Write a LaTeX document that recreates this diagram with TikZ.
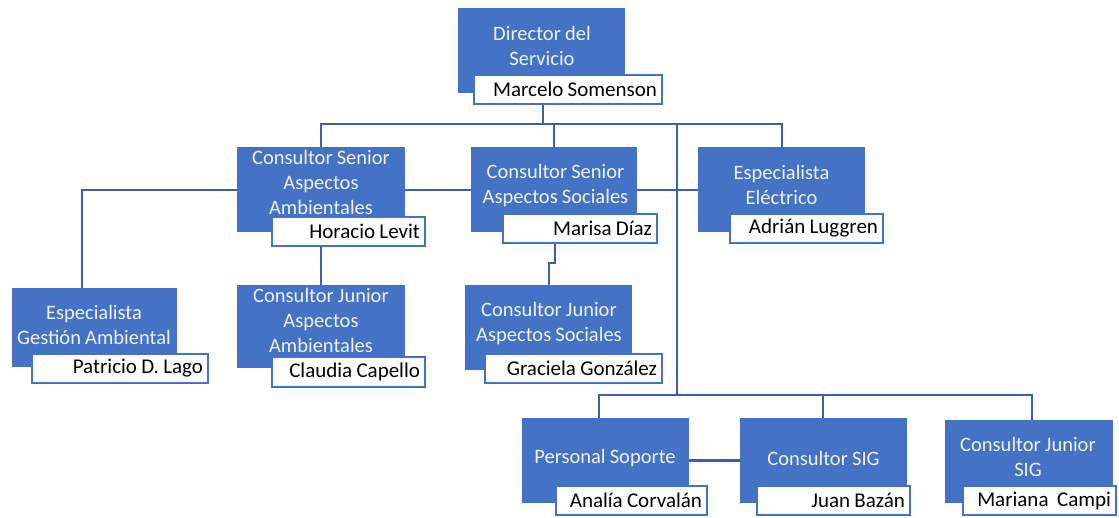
\documentclass[tikz,border=0pt]{standalone}
\usepackage{fontspec}
\setmainfont{Carlito}[WordSpace=0.9]
\usetikzlibrary{backgrounds}
\definecolor{boxblue}{HTML}{4472C4}
\definecolor{lineblue}{HTML}{3D5FA8}
\definecolor{titletxt}{HTML}{EEF2FA}
\begin{document}
\begin{tikzpicture}[x=1pt,y=-1pt,
  bluebox/.style={fill=boxblue, draw=none, inner sep=0pt},
  titletext/.style={text=titletxt, align=flush center, font=\fontsize{20.5}{25}\selectfont, inner sep=0pt},
  namebox/.style={draw=boxblue, line width=1.3pt, fill=white, align=flush right, inner xsep=5pt, inner ysep=0pt, font=\fontsize{21}{25}\selectfont, text=black, minimum height=29pt},
  conn/.style={draw=lineblue, line width=2pt}]
\useasboundingbox (0,0) rectangle (1119,517);

% Director
\node[bluebox, minimum width=167pt, minimum height=85pt] (dir) at (541.5,50.5) {};
\node[titletext] (dirT) at (542,45.5) {Director del\\Servicio};
\node[namebox, text width=178pt] (dirN) at (568,89.5) {Marcelo Somenson};

% Consultor Senior Aspectos Ambientales
\node[bluebox, minimum width=168pt, minimum height=85pt] (aas) at (321,189.5) {};
\node[titletext] (aasT) at (321,182.5) {Consultor Senior\\Aspectos\\Ambientales};
\node[namebox, text width=143pt] (aasN) at (348.5,231.5) {Horacio Levit};

% Consultor Senior Aspectos Sociales
\node[bluebox, minimum width=166pt, minimum height=85pt] (ass) at (554,189.5) {};
\node[titletext] (assT) at (555.5,185.5) {Consultor Senior\\Aspectos Sociales};
\node[namebox, text width=144pt] (assN) at (580,228.5) {Marisa Díaz};

% Especialista Electrico
\node[bluebox, minimum width=167pt, minimum height=85pt] (ele) at (781.5,189.5) {};
\node[titletext] (eleT) at (781.5,184.5) {Especialista\\Eléctrico};
\node[namebox, text width=143pt] (eleN) at (806.5,228.5) {Adrián Luggren};

% Especialista Gestion Ambiental
\node[bluebox, minimum width=165pt, minimum height=79pt] (ga) at (94.5,327.5) {};
\node[titletext] (gaT) at (94,324.5) {Especialista\\Gestión Ambiental};
\node[namebox, text width=166pt] (gaN) at (120,368.5) {Patricio D. Lago};

% Consultor Junior Aspectos Ambientales
\node[bluebox, minimum width=168pt, minimum height=83pt] (jaa) at (321,326.5) {};
\node[titletext] (jaaT) at (321,320) {Consultor Junior\\Aspectos\\Ambientales};
\node[namebox, text width=143pt, minimum height=30pt] (jaaN) at (348.5,372) {Claudia Capello};

% Consultor Junior Aspectos Sociales
\node[bluebox, minimum width=167pt, minimum height=85pt] (jas) at (548.5,327.5) {};
\node[titletext] (jasT) at (549,323.5) {Consultor Junior\\Aspectos Sociales};
\node[namebox, text width=167pt] (jasN) at (573.5,368.5) {Graciela González};

% Personal Soporte
\node[bluebox, minimum width=167pt, minimum height=85pt] (ps) at (605.5,460.5) {};
\node[titletext] (psT) at (605,458) {Personal Soporte};
\node[namebox, text width=141pt] (psN) at (631.5,500.5) {Analía Corvalán};

% Consultor SIG
\node[bluebox, minimum width=167pt, minimum height=85pt] (sig) at (823.5,460.5) {};
\node[titletext] (sigT) at (823.5,458) {Consultor SIG};
\node[namebox, text width=143pt] (sigN) at (833.5,500.5) {Juan Bazán};

% Consultor Junior SIG
\node[bluebox, minimum width=168pt, minimum height=83pt] (jsig) at (1029,461.5) {};
\node[titletext] (jsigT) at (1028,456.5) {Consultor Junior\\SIG};
\node[namebox, text width=143pt] (jsigN) at (1039.5,500.5) {Mariana\ \ Campi};

% junction coordinates
\coordinate (topJ) at (543,124);
\coordinate (midJ) at (677,124);
\coordinate (botJ) at (677,395);
\coordinate (botL) at (599,395);
\coordinate (botM) at (823,395);
\coordinate (botR) at (1032,395);
\coordinate (gaJ) at (82,189.5);
\coordinate (mJ) at (555,263);

\begin{pgfonlayer}{background}
\draw[conn] (topJ |- dirN.south) -- (topJ);
\draw[conn] (aas.north) -- (aas.north |- topJ) -- (ele.north |- topJ) -- (ele.north);
\draw[conn] (ass.north |- topJ) -- (ass.north);
\draw[conn] (midJ) -- (botJ);
\draw[conn] (aas.east) -- (ele.west);
\draw[conn] (aas.west) -- (gaJ) -- (gaJ |- ga.north);
\draw[conn] (aas.south |- aasN.south) -- (jaa.north);
\draw[conn] (mJ |- assN.south) -- (mJ) -- (jas.north |- mJ) -- (jas.north);
\draw[conn] (botL |- ps.north) -- (botL) -- (botR) -- (botR |- jsig.north);
\draw[conn] (botM) -- (botM |- sig.north);
\draw[conn, line width=2.8pt] (ps.east) -- (sig.west);
\end{pgfonlayer}
\end{tikzpicture}
\end{document}
